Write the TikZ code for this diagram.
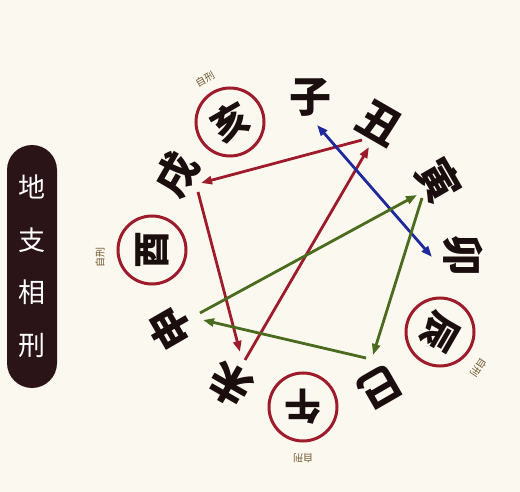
\documentclass[tikz,border=0pt]{standalone}
\usepackage{fontspec}
\newfontfamily\cjk{Noto Sans CJK SC}
\usetikzlibrary{arrows.meta}
\definecolor{bg}{HTML}{FBF8EF}
\definecolor{rd}{HTML}{9E1B2B}
\definecolor{bl}{HTML}{1E2A9C}
\definecolor{gr}{HTML}{4B6B1E}
\definecolor{ink}{HTML}{1A0E0E}
\definecolor{panel}{HTML}{2A1418}
\definecolor{lab}{HTML}{6E5A30}
\begin{document}
\begin{tikzpicture}[x=1pt,y=-1pt,
  branch/.style={font=\cjk\bfseries\fontsize{42}{42}\selectfont, text=ink, inner sep=0pt},
  ringed/.style={font=\cjk\bfseries\fontsize{37}{37}\selectfont, text=ink, inner sep=0pt},
  ring/.style={draw=rd, line width=3pt},
  selfnote/.style={font=\cjk\fontsize{10}{10}\selectfont, text=lab, inner sep=0pt},
  rel/.style={line width=2.8pt, -{Triangle[length=11pt,width=8pt]}},
  relboth/.style={line width=2.8pt, {Triangle[length=11pt,width=8pt]}-{Triangle[length=11pt,width=8pt]}},
  titlebox/.style={fill=panel, rounded corners=25pt, minimum width=50pt, minimum height=243pt,
                   text=white, align=center, inner sep=0pt,
                   font=\cjk\fontsize{27}{52.5}\selectfont}]
\useasboundingbox (0,0) rectangle (520,492);
\fill[bg] (0,0) rectangle (520,492);

% title panel
\node[titlebox] (title) at (32,266.5) {地\\支\\相\\刑};

% branches
\node[branch, rotate=0]    (zi)   at (310,97)  {子};
\node[branch, rotate=-30]  (chou) at (380,123) {丑};
\node[branch, rotate=-60]  (yin)  at (439,181) {寅};
\node[branch, rotate=-90]  (mao)  at (463,256) {卯};
\node[ringed, rotate=-120] (chen) at (440,332) {辰};
\node[branch, rotate=-150] (si)   at (380,387) {巳};
\node[ringed, rotate=180]  (wu)   at (303,407) {午};
\node[branch, rotate=150]  (wei)  at (230,385) {未};
\node[branch, rotate=120]  (shen) at (170,328) {申};
\node[ringed, rotate=90]   (you)  at (152,250) {酉};
\node[branch, rotate=60]   (xu)   at (177,175) {戌};
\node[ringed, rotate=30]   (hai)  at (230,122) {亥};

% rings round the self-punishing branches
\draw[ring] (chen) circle[radius=34pt];
\draw[ring] (wu)   circle[radius=34pt];
\draw[ring] (you)  circle[radius=34pt];
\draw[ring] (hai)  circle[radius=34pt];

% self-punishment notes
\node[selfnote, rotate=30]   (n1) at (205,79)  {自刑};
\node[selfnote, rotate=90]   (n2) at (100,257) {自刑};
\node[selfnote, rotate=-124] (n3) at (479,368) {自刑};
\node[selfnote, rotate=180]  (n4) at (303,458) {自刑};

% connector ends
\coordinate (r1s) at (362,140); \coordinate (r1e) at (201,183);
\coordinate (r2s) at (198,192); \coordinate (r2e) at (240,352);
\coordinate (r3s) at (245,360); \coordinate (r3e) at (369,147);
\coordinate (b1)  at (317,125); \coordinate (b2)  at (432,257);
\coordinate (g1s) at (200,313); \coordinate (g1e) at (417,195);
\coordinate (g2s) at (422,198); \coordinate (g2e) at (373,355);
\coordinate (g3s) at (366,358); \coordinate (g3e) at (203,320);

\draw[rel, rd] (r1s) -- (r1e);
\draw[rel, rd] (r2s) -- (r2e);
\draw[rel, rd] (r3s) -- (r3e);
\draw[relboth, bl] (b1) -- (b2);
\draw[rel, gr] (g1s) -- (g1e);
\draw[rel, gr] (g2s) -- (g2e);
\draw[rel, gr] (g3s) -- (g3e);
\end{tikzpicture}
\end{document}
